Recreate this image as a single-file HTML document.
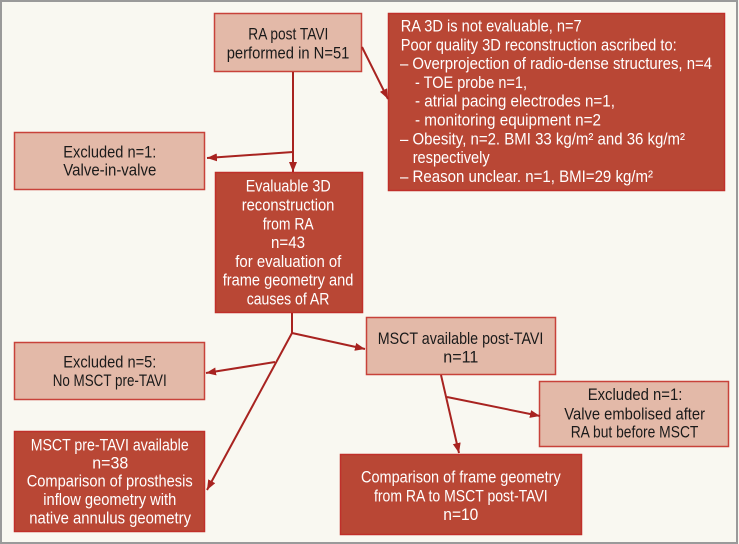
<!DOCTYPE html>
<html>
<head>
<meta charset="utf-8">
<style>
html,body{margin:0;padding:0;background:#f9f8f1;}
svg{display:block;}
text{font-family:"Liberation Sans Narrow","Liberation Sans",sans-serif;font-size:17px;}
.lt{fill:#1a1a1a;}
.dk{fill:#ffffff;}
</style>
</head>
<body>
<svg width="739" height="544" viewBox="0 0 739 544" xmlns="http://www.w3.org/2000/svg">
<defs>
<marker id="ah" markerUnits="userSpaceOnUse" markerWidth="12" markerHeight="10" refX="10" refY="4" orient="auto">
<path d="M0,0 L10,4 L0,8 Z" fill="#a82320"/>
</marker>
</defs>
<rect x="0" y="0" width="739" height="544" fill="#f9f8f1"/>
<rect x="1" y="1" width="736" height="542" fill="none" stroke="#9a9a9a" stroke-width="2"/>

<!-- boxes -->
<rect x="214.5" y="13.5" width="147" height="58" fill="#e3b9a8" stroke="#c8423a" stroke-width="1.5"/>
<rect x="388.5" y="13.5" width="336" height="177" fill="#b94735" stroke="#c0302a" stroke-width="1.5"/>
<rect x="14.5" y="132.5" width="190" height="57" fill="#e3b9a8" stroke="#c8423a" stroke-width="1.5"/>
<rect x="215.5" y="172.5" width="147" height="140" fill="#b94735" stroke="#c0302a" stroke-width="1.5"/>
<rect x="14.5" y="342.5" width="190" height="57" fill="#e3b9a8" stroke="#c8423a" stroke-width="1.5"/>
<rect x="14.5" y="431.5" width="190" height="100" fill="#b94735" stroke="#c0302a" stroke-width="1.5"/>
<rect x="366.5" y="317.5" width="189" height="57" fill="#e3b9a8" stroke="#c8423a" stroke-width="1.5"/>
<rect x="539.5" y="381.5" width="189" height="65" fill="#e3b9a8" stroke="#c8423a" stroke-width="1.5"/>
<rect x="340.5" y="454.5" width="241" height="80" fill="#b94735" stroke="#c0302a" stroke-width="1.5"/>

<!-- connectors -->
<g stroke="#a82320" stroke-width="2" fill="none">
<line x1="293" y1="72" x2="293" y2="172" marker-end="url(#ah)"/>
<line x1="293" y1="152" x2="207" y2="158" marker-end="url(#ah)"/>
<line x1="362" y1="47" x2="388" y2="99" marker-end="url(#ah)"/>
<line x1="292" y1="313" x2="292" y2="334"/>
<line x1="292" y1="333" x2="365" y2="349" marker-end="url(#ah)"/>
<line x1="292" y1="333" x2="207" y2="490" marker-end="url(#ah)"/>
<line x1="275" y1="362" x2="206" y2="373" marker-end="url(#ah)"/>
<line x1="441" y1="375" x2="459" y2="453" marker-end="url(#ah)"/>
<line x1="447" y1="397" x2="540" y2="416" marker-end="url(#ah)"/>
</g>

<!-- box 1 -->
<text class="lt" x="248.3" y="39.3" textLength="80" lengthAdjust="spacingAndGlyphs">RA post TAVI</text>
<text class="lt" x="226.7" y="58.5" textLength="122.7" lengthAdjust="spacingAndGlyphs">performed in N=51</text>

<!-- box 2 -->
<text class="dk" x="400.7" y="31.5" textLength="181" lengthAdjust="spacingAndGlyphs">RA 3D is not evaluable, n=7</text>
<text class="dk" x="400.7" y="50.3" textLength="276" lengthAdjust="spacingAndGlyphs">Poor quality 3D reconstruction ascribed to:</text>
<text class="dk" x="400" y="69.1" textLength="312" lengthAdjust="spacingAndGlyphs">– Overprojection of radio-dense structures, n=4</text>
<text class="dk" x="415" y="87.9" textLength="112" lengthAdjust="spacingAndGlyphs">- TOE probe n=1,</text>
<text class="dk" x="415" y="106.7" textLength="200" lengthAdjust="spacingAndGlyphs">- atrial pacing electrodes n=1,</text>
<text class="dk" x="415" y="125.5" textLength="186" lengthAdjust="spacingAndGlyphs">- monitoring equipment n=2</text>
<text class="dk" x="400" y="144.3" textLength="285" lengthAdjust="spacingAndGlyphs">– Obesity, n=2. BMI 33 kg/m² and 36 kg/m²</text>
<text class="dk" x="412.7" y="163.1" textLength="77" lengthAdjust="spacingAndGlyphs">respectively</text>
<text class="dk" x="400" y="181.8" textLength="253" lengthAdjust="spacingAndGlyphs">– Reason unclear. n=1, BMI=29 kg/m²</text>

<!-- box 3 -->
<text class="lt" x="63.3" y="157.3" textLength="93" lengthAdjust="spacingAndGlyphs">Excluded n=1:</text>
<text class="lt" x="63.3" y="175.7" textLength="93" lengthAdjust="spacingAndGlyphs">Valve-in-valve</text>

<!-- box 4 -->
<text class="dk" x="245.7" y="191.7" textLength="85" lengthAdjust="spacingAndGlyphs">Evaluable 3D</text>
<text class="dk" x="241.7" y="210.5" textLength="92.7" lengthAdjust="spacingAndGlyphs">reconstruction</text>
<text class="dk" x="262.7" y="229.3" textLength="51" lengthAdjust="spacingAndGlyphs">from RA</text>
<text class="dk" x="271" y="248.1" textLength="34" lengthAdjust="spacingAndGlyphs">n=43</text>
<text class="dk" x="235.3" y="266.9" textLength="106" lengthAdjust="spacingAndGlyphs">for evaluation of</text>
<text class="dk" x="222.7" y="285.7" textLength="130.7" lengthAdjust="spacingAndGlyphs">frame geometry and</text>
<text class="dk" x="246.7" y="304.4" textLength="82.7" lengthAdjust="spacingAndGlyphs">causes of AR</text>

<!-- box 5 -->
<text class="lt" x="63.3" y="367.3" textLength="93" lengthAdjust="spacingAndGlyphs">Excluded n=5:</text>
<text class="lt" x="52.7" y="386" textLength="114" lengthAdjust="spacingAndGlyphs">No MSCT pre-TAVI</text>

<!-- box 6 -->
<text class="dk" x="30.7" y="450.3" textLength="158" lengthAdjust="spacingAndGlyphs">MSCT pre-TAVI available</text>
<text class="dk" x="92.3" y="468.5" textLength="36" lengthAdjust="spacingAndGlyphs">n=38</text>
<text class="dk" x="26.7" y="486.7" textLength="166" lengthAdjust="spacingAndGlyphs">Comparison of prosthesis</text>
<text class="dk" x="43.3" y="505" textLength="133" lengthAdjust="spacingAndGlyphs">inflow geometry with</text>
<text class="dk" x="29.3" y="523.3" textLength="161.7" lengthAdjust="spacingAndGlyphs">native annulus geometry</text>

<!-- box 7 -->
<text class="lt" x="377.7" y="344" textLength="165.7" lengthAdjust="spacingAndGlyphs">MSCT available post-TAVI</text>
<text class="lt" x="443.3" y="362.7" textLength="35" lengthAdjust="spacingAndGlyphs">n=11</text>

<!-- box 8 -->
<text class="lt" x="587.7" y="400" textLength="94.7" lengthAdjust="spacingAndGlyphs">Excluded n=1:</text>
<text class="lt" x="564.3" y="419.3" textLength="140.7" lengthAdjust="spacingAndGlyphs">Valve embolised after</text>
<text class="lt" x="570.7" y="437.7" textLength="127.7" lengthAdjust="spacingAndGlyphs">RA but before MSCT</text>

<!-- box 9 -->
<text class="dk" x="361" y="482.7" textLength="199.7" lengthAdjust="spacingAndGlyphs">Comparison of frame geometry</text>
<text class="dk" x="374" y="501.5" textLength="173.7" lengthAdjust="spacingAndGlyphs">from RA to MSCT post-TAVI</text>
<text class="dk" x="443.3" y="520" textLength="35" lengthAdjust="spacingAndGlyphs">n=10</text>
</svg>
</body>
</html>
